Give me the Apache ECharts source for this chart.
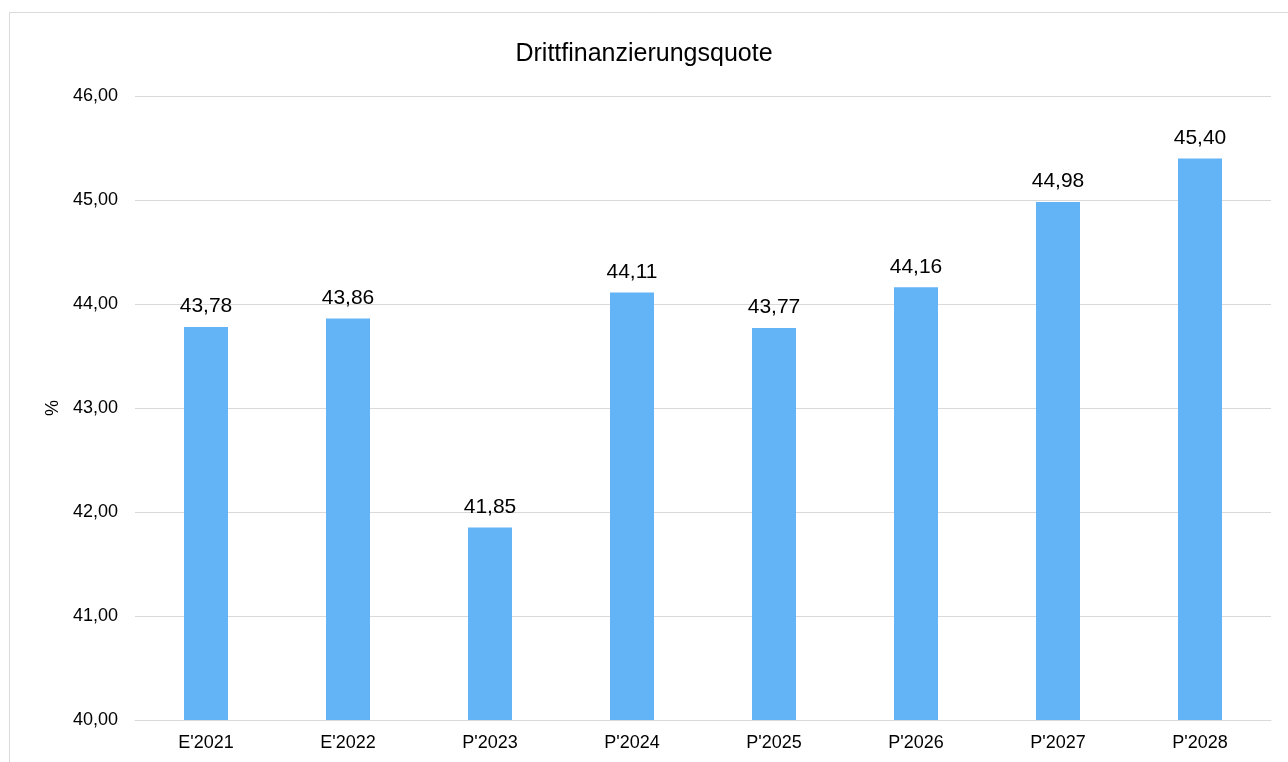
<!DOCTYPE html>
<html><head><meta charset="utf-8">
<script src="https://cdn.jsdelivr.net/npm/echarts@6/dist/echarts.min.js"></script>
<style>html,body{margin:0;padding:0;background:#fff;}#c{width:1288px;height:762px;}</style>
</head><body><div id="c"></div>
<script>
const categories = ["E'2021","E'2022","P'2023","P'2024","P'2025","P'2026","P'2027","P'2028"];
const values = [43.78, 43.86, 41.85, 44.11, 43.77, 44.16, 44.98, 45.40];
const titleText = "Drittfinanzierungsquote";
const yName = "%";
const fmt = v => v.toFixed(2).replace('.', ',');
const chart = echarts.init(document.getElementById('c'), null, {renderer:'canvas'});
chart.setOption({
  animation:false,
  backgroundColor:'#fff',
  graphic:[{type:'rect',shape:{x:9.5,y:12.5,width:1300,height:800},style:{fill:'none',stroke:'#d9d9d9',lineWidth:1},silent:true,z:-1}],
  title:{text:titleText,left:'center',top:37,textStyle:{fontFamily:'Liberation Sans',fontSize:25,fontWeight:'normal',color:'#000'}},
  grid:{left:135,right:17,top:96,bottom:42,containLabel:false},
  xAxis:{type:'category',data:categories,
    axisLine:{lineStyle:{color:'#d9d9d9',width:1}},axisTick:{show:false},
    axisLabel:{fontFamily:'Liberation Sans',fontSize:18,color:'#000',margin:14}},
  yAxis:{type:'value',min:40,max:46,interval:1,name:yName,nameLocation:'middle',nameGap:72,nameRotate:90,
    nameTextStyle:{fontFamily:'Liberation Sans',fontSize:18,color:'#000'},
    axisLine:{show:false},axisTick:{show:false},
    splitLine:{lineStyle:{color:'#d9d9d9',width:1}},
    axisLabel:{fontFamily:'Liberation Sans',fontSize:18,color:'#000',margin:17,formatter:v=>fmt(v)}},
  series:[{type:'bar',data:values,barWidth:44,itemStyle:{color:'#63b4f6'},
    label:{show:true,position:'top',distance:10,fontFamily:'Liberation Sans',fontSize:21,color:'#000',formatter:p=>fmt(p.value)}}]
});
</script></body></html>
